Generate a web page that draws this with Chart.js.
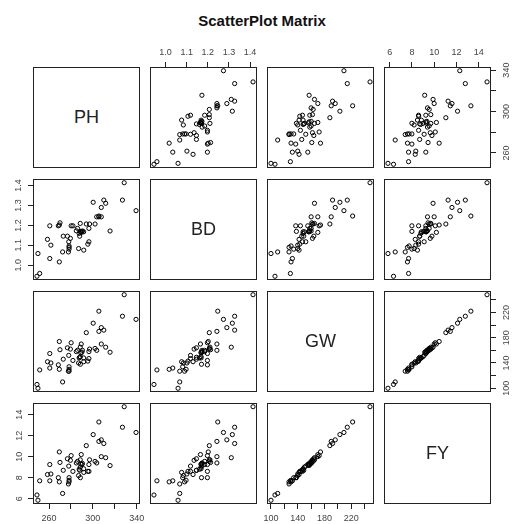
<!DOCTYPE html>
<html><head><meta charset="utf-8">
<script src="https://cdn.jsdelivr.net/npm/chart.js@4"></script>
<style>
html,body{margin:0;padding:0;background:#fff;}
#wrap{position:relative;width:513px;height:524px;overflow:hidden;font-family:"Liberation Sans",Arial,sans-serif;}
#title{position:absolute;left:33px;width:458px;top:12px;text-align:center;font-weight:bold;font-size:15px;line-height:18px;color:#111;}
.diag{position:absolute;box-sizing:border-box;border:1px solid #222;display:flex;align-items:center;justify-content:center;font-size:18px;color:#222;}
canvas{position:absolute;}
</style></head><body>
<div id="wrap"><div id="title">ScatterPlot Matrix</div></div>
<script>
const VAR_NAMES = ['PH','BD','GW','FY'];
const PH = [328.6,327,339.4,305.5,310,300.3,307.7,311.7,303.5,307.7,305.5,302,297,315.7,294,260.7,270,269.4,268.5,280.2,281.8,288.5,296.4,286,284.9,288.5,290,291.6,273,276.8,288,279.5,278,258.6,261.7,278.3,278.3,296.4,295.4,287,278.3,291.7,272.4,277.7,260.7,249.9,269.4,251.5,249,287.5,289.4,288.6,289,290.5];
const BD = [1.414,1.327,1.274,1.247,1.327,1.316,1.290,1.311,1.243,1.243,1.243,1.207,1.207,1.172,1.207,1.198,1.213,1.202,1.198,1.198,1.198,1.210,1.185,1.185,1.173,1.168,1.168,1.168,1.146,1.146,1.146,1.135,1.118,1.130,1.101,1.097,1.090,1.118,1.106,1.084,1.081,1.076,1.067,1.067,1.034,1.059,1.017,0.959,0.945,1.160,1.165,1.170,1.168,1.172];
const GW = [248,214,209,222,192,203,196,165,160,170,190,163,162,157,188,155,161,174,137,172,144,165,158,160,158,150,157,148,146,164,149,162,152,142,140,130,127,147,143,140,134,142,110,127,132,100,130,129,106,148,170,138,156,160];
const FY = [14.75,12.8,12.3,13.3,11.25,12.1,11.6,9.9,9.4,10.0,11.45,9.55,9.7,9.15,11.05,9.25,9.45,10.45,8.0,10.1,8.6,9.7,9.25,9.55,9.4,9.0,9.25,8.85,8.7,9.8,8.7,9.65,9.1,8.3,8.35,7.75,7.6,8.6,8.6,8.2,8.0,8.5,6.5,7.4,7.7,5.85,7.6,7.7,6.35,8.8,10.2,8.0,9.3,9.35];

const PH_TICKS = [260,280,300,320,340];
const PH_LABELS = ['260','','300','','340'];
const BD_TICKS = [1.0,1.1,1.2,1.3,1.4];
const BD_LABELS = ['1.0','1.1','1.2','1.3','1.4'];
const GW_TICKS = [100,120,140,160,180,200,220,240];
const GW_LABELS = ['100','','140','','180','','220',''];
const FY_TICKS = [6,8,10,12,14];
const FY_LABELS = ['6','8','10','12','14'];

const DATA = {PH, BD, GW, FY};
const TICKS = {PH: PH_TICKS, BD: BD_TICKS, GW: GW_TICKS, FY: FY_TICKS};
const LABELS = {PH: PH_LABELS, BD: BD_LABELS, GW: GW_LABELS, FY: FY_LABELS};

// layout
const COL_LEFT = [33,150,267,384];
const ROW_TOP = [67,179,291,403];
const W = 107, H = 101, P = 24;
const FONT = '"Liberation Sans", Arial, sans-serif';

function lim(arr){ const mn=Math.min(...arr), mx=Math.max(...arr), r=mx-mn; return [mn-0.04*r, mx+0.04*r]; }

const boxPlugin = {
  id:'box',
  afterDraw(chart){
    const {ctx, chartArea:a} = chart;
    ctx.save(); ctx.strokeStyle='#222'; ctx.lineWidth=1;
    ctx.strokeRect(Math.round(a.left)+0.5, Math.round(a.top)+0.5, Math.round(a.right-a.left)-1, Math.round(a.bottom-a.top)-1);
    ctx.restore();
  }
};

const wrap = document.getElementById('wrap');

function scaleCfg(v, pos, horiz){
  const l = lim(DATA[v]);
  return {
    type:'linear', position: pos || (horiz?'bottom':'left'), display: !!pos,
    min: l[0], max: l[1],
    afterBuildTicks: s => { s.ticks = TICKS[v].map(t => ({value:t})); },
    afterFit: s => { if (!pos) { s.width = 0; s.height = 0; } else if (horiz) s.height = P; else s.width = P; },
    grid: {display:true, drawOnChartArea:false, drawTicks:true, tickLength:5, tickColor:'#222', tickWidth:1},
    border: {display:false},
    ticks: {
      font:{size:9, family:FONT}, color:'#444', padding: horiz?4:3, autoSkip:false,
      minRotation: horiz?0:90, maxRotation: horiz?0:90, crossAlign: horiz?'near':'center',
      callback: (val, i) => LABELS[v][i]
    }
  };
}

for (let r=0;r<4;r++){
  for (let c=0;c<4;c++){
    if (r===c){
      const d = document.createElement('div');
      d.className='diag';
      d.style.left=COL_LEFT[c]+'px'; d.style.top=ROW_TOP[r]+'px';
      d.style.width=W+'px'; d.style.height=H+'px';
      d.textContent = VAR_NAMES[r];
      wrap.appendChild(d);
      continue;
    }
    const xv = VAR_NAMES[c], yv = VAR_NAMES[r];
    let xPos = null, yPos = null;
    if (r===0 && c%2===1) xPos='top';
    if (r===3 && c%2===0) xPos='bottom';
    if (c===0 && r%2===1) yPos='left';
    if (c===3 && r%2===0) yPos='right';
    const cv = document.createElement('canvas');
    cv.width = W+2*P; cv.height = H+2*P;
    cv.style.left=(COL_LEFT[c]-P)+'px'; cv.style.top=(ROW_TOP[r]-P)+'px';
    cv.style.width=(W+2*P)+'px'; cv.style.height=(H+2*P)+'px';
    wrap.appendChild(cv);
    const xs = DATA[xv], ys = DATA[yv];
    new Chart(cv, {
      type:'scatter',
      data:{datasets:[{data: xs.map((x,i)=>({x, y:ys[i]})), pointRadius:2.1, pointBorderWidth:1, borderColor:'#000', backgroundColor:'rgba(0,0,0,0)', pointStyle:'circle'}]},
      options:{
        responsive:false, animation:false, events:[], devicePixelRatio:1,
        layout:{padding:{top: xPos==='top'?0:P, bottom: xPos==='bottom'?0:P, left: yPos==='left'?0:P, right: yPos==='right'?0:P}},
        plugins:{legend:{display:false}, tooltip:{enabled:false}},
        scales:{ x: scaleCfg(xv, xPos, true), y: scaleCfg(yv, yPos, false) }
      },
      plugins:[boxPlugin]
    });
  }
}
</script>
</body></html>
